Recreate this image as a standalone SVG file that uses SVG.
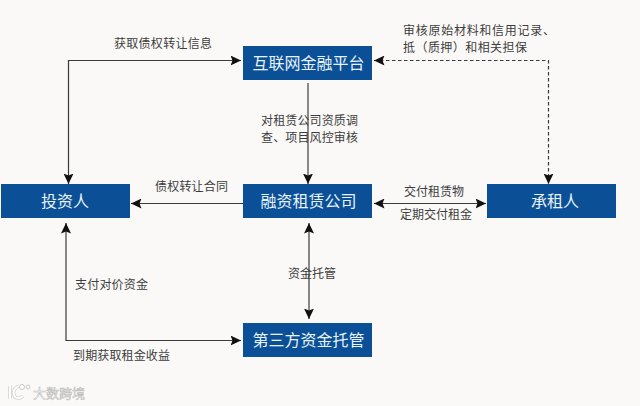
<svg xmlns="http://www.w3.org/2000/svg" width="640" height="406" viewBox="0 0 640 406">
<style>
text{font-family:"Noto Sans CJK SC","Noto Sans",sans-serif}
.n rect{fill:#0b5096}
.n text{fill:#e8f3fb;font-size:16px;text-anchor:middle}
.l{fill:#3d3d3d;font-size:12px}
.c path{fill:none;stroke:#3a3a3a;stroke-width:1.2}
.g{stroke:#6e6e6e!important;stroke-width:1.6!important}
.d{stroke-dasharray:3.5 2.5}
</style>
<defs>
<marker id="a" markerUnits="userSpaceOnUse" markerWidth="11" markerHeight="10" refX="10.5" refY="5" orient="auto-start-reverse"><path d="M0 0L10.500 5L0 10L2 5Z" fill="#111"/></marker>
</defs>
<rect width="640" height="406" fill="#faf9f7"/>
<g class="c" id="connectors">
<path d="M241 60.500H68.500V184" marker-start="url(#a)" marker-end="url(#a)"/>
<path class="g" d="M308 83V184" marker-end="url(#a)"/>
<path d="M243 203.500H131" marker-end="url(#a)"/>
<path class="d" d="M374 60.500H548.500V184" marker-start="url(#a)" marker-end="url(#a)"/>
<path d="M374 203.500H486" marker-start="url(#a)" marker-end="url(#a)"/>
<path d="M309 223V319" marker-start="url(#a)" marker-end="url(#a)"/>
<path d="M66 223V340.500H241" marker-start="url(#a)" marker-end="url(#a)"/>
</g>
<g class="n" id="platform"><rect x="243" y="46" width="129" height="34"/><text x="308.500" y="69">互联网金融平台</text></g>
<g class="n" id="investor"><rect x="1" y="184" width="129" height="34"/><text x="65" y="207">投资人</text></g>
<g class="n" id="leasing"><rect x="243" y="184" width="129" height="34"/><text x="308.500" y="207">融资租赁公司</text></g>
<g class="n" id="lessee"><rect x="487" y="184" width="129" height="34"/><text x="555" y="207">承租人</text></g>
<g class="n" id="custody"><rect x="243" y="323" width="129" height="34"/><text x="308.500" y="346">第三方资金托管</text></g>
<g id="labels">
<text class="l" x="114" y="48" textLength="98">获取债权转让信息</text>
<text class="l" x="261" y="125" textLength="97">对租赁公司资质调</text>
<text class="l" x="261" y="142" textLength="97">查、项目风控审核</text>
<text class="l" x="155" y="191" textLength="73">债权转让合同</text>
<text class="l" x="403" y="35" textLength="152">审核原始材料和信用记录、</text>
<text class="l" x="403" y="52" textLength="124">抵（质押）和相关担保</text>
<text class="l" x="404" y="196">交付租赁物</text>
<text class="l" x="400" y="219">定期交付租金</text>
<text class="l" x="288" y="278">资金托管</text>
<text class="l" x="75" y="289" textLength="73">支付对价资金</text>
<text class="l" x="73" y="360" textLength="97">到期获取租金收益</text>
</g>
<g id="watermark">
<path d="M10 386V399M19 386C14 388 13 392 14 395C15 399 20 399 23 396" fill="none" stroke="#cfcfcd" stroke-width="3.500"/>
<path d="M10 386V399M19 386C14 388 13 392 14 395C15 399 20 399 23 396" fill="none" stroke="#fff" stroke-width="2"/>
<circle cx="22" cy="387" r="2.500" fill="#fff" stroke="#c8c8c6"/>
<circle cx="28" cy="387" r="2" fill="#fff" stroke="#c8c8c6"/>
<text x="33" y="398" font-size="13" fill="#fff" stroke="#bdbdbb" stroke-width=".6">大数跨境</text>
</g>
</svg>
